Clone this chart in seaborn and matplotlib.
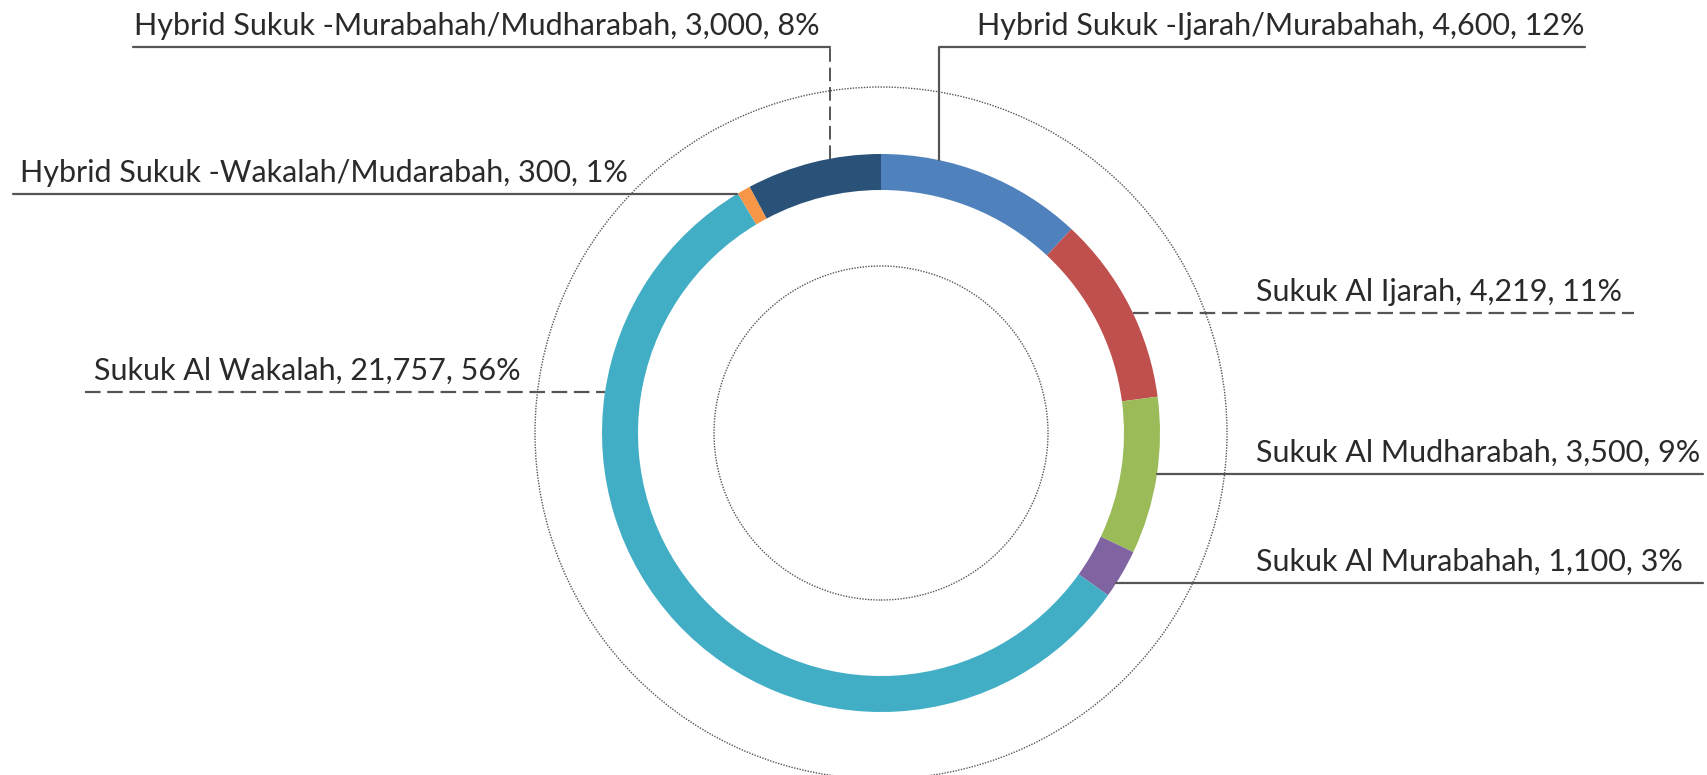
import numpy as np
import matplotlib.pyplot as plt
import seaborn as sns
from matplotlib.patches import Circle

# data, clockwise from 12 o'clock
labels = ['Hybrid Sukuk -Ijarah/Murabahah', 'Sukuk Al Ijarah', 'Sukuk Al Mudharabah',
          'Sukuk Al Murabahah', 'Sukuk Al Wakalah', 'Hybrid Sukuk -Wakalah/Mudarabah',
          'Hybrid Sukuk -Murabahah/Mudharabah']
values = [4600, 4219, 3500, 1100, 21757, 300, 3000]
percents = [12, 11, 9, 3, 56, 1, 8]
colors = ['#4f81bd', '#c0504d', '#9bbb59', '#8064a2', '#41aec5', '#f79646', '#2a5279']

sns.set_theme(style='white')
plt.rcParams['font.family'] = ['Lato', 'DejaVu Sans']

W, H = 1708, 775
fig = plt.figure(figsize=(W / 100, H / 100), dpi=100)
ax = fig.add_axes([0, 0, 1, 1])

cx, cy = 881, H - 433
R, ring_w = 279, 36

ax.pie(values, colors=colors, startangle=90, counterclock=False,
       center=(cx, cy), radius=R, frame=True,
       wedgeprops=dict(width=ring_w, linewidth=0))

# thin dotted guide circles
for r in (346, 167):
    ax.add_patch(Circle((cx, cy), r, fill=False, ls=(0, (1, 1)), lw=1.0, color='#555555'))

line_c = '#555555'

def ring_x(y, side):
    dy = y - cy
    return cx + side * np.sqrt(R ** 2 - dy ** 2)

def ring_y(x):
    dx = x - cx
    return cy + np.sqrt(R ** 2 - dx ** 2)

def label(i, tx, ty):
    ax.text(tx, ty + 7, f'{labels[i]}, {values[i]:,}, {percents[i]}%',
            fontsize=22, color='#2a2a2a', ha='left', va='bottom')

# Hybrid Ijarah/Murabahah: vertical + horizontal, solid
y0 = H - 47
ax.plot([939, 939, 1585], [ring_y(939), y0, y0], color=line_c, lw=1.6, ls='-')
label(0, 977, y0)

# Hybrid Murabahah/Mudharabah: dashed vertical, solid horizontal
ax.plot([830, 830], [ring_y(830), y0], color=line_c, lw=1.4, ls=(0, (7, 3)))
ax.plot([133, 830], [y0, y0], color=line_c, lw=1.6, ls='-')
label(6, 134, y0)

# Hybrid Wakalah/Mudarabah
y1 = H - 194
ax.plot([13, ring_x(y1, -1)], [y1, y1], color=line_c, lw=1.6)
label(5, 20, y1)

# Sukuk Al Wakalah, dashed
y2 = H - 392
ax.plot([85, ring_x(y2, -1)], [y2, y2], color=line_c, lw=1.6, ls=(0, (7, 3)))
label(4, 94, y2)

# Sukuk Al Ijarah, dashed
y3 = H - 313
ax.plot([ring_x(y3, 1), 1634], [y3, y3], color=line_c, lw=1.6, ls=(0, (7, 3)))
label(1, 1256, y3)

# Sukuk Al Mudharabah
y4 = H - 474
ax.plot([ring_x(y4, 1), 1703], [y4, y4], color=line_c, lw=1.6)
label(2, 1256, y4)

# Sukuk Al Murabahah
y5 = H - 583
ax.plot([ring_x(y5, 1), 1703], [y5, y5], color=line_c, lw=1.6)
label(3, 1256, y5)

ax.set_xlim(0, W)
ax.set_ylim(0, H)
ax.set_aspect('equal')
ax.axis('off')

fig.savefig('out.png', dpi=100, facecolor='white')
